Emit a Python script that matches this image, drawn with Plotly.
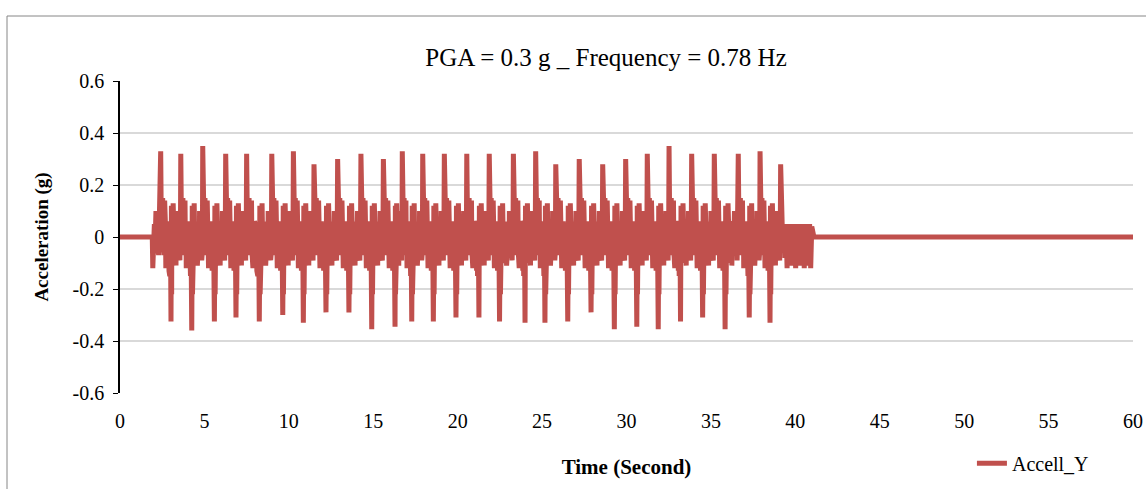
import plotly.graph_objects as go

# ----------------------------- Data ----------------------------- #
# major positive spikes (time [s], acceleration [g])
pos_t = [2.41, 3.60, 4.90, 6.26, 7.50, 8.99, 10.27, 11.49, 12.89, 14.27,
         15.60, 16.72, 17.93, 19.21, 20.54, 21.87, 23.30, 24.62, 25.81, 27.20,
         28.59, 29.95, 31.23, 32.52, 33.86, 35.20, 36.62, 37.91, 39.13]
pos_g = [0.33, 0.32, 0.35, 0.32, 0.32, 0.32, 0.33, 0.28, 0.30, 0.32,
         0.30, 0.33, 0.32, 0.32, 0.32, 0.32, 0.32, 0.33, 0.28, 0.30,
         0.28, 0.30, 0.32, 0.35, 0.32, 0.32, 0.32, 0.33, 0.28]

# major negative spikes
neg_t = [3.02, 4.25, 5.59, 6.87, 8.25, 9.64, 10.86, 12.20, 13.56, 14.91,
         16.29, 17.28, 18.56, 19.90, 21.26, 22.48, 23.99, 25.17, 26.52, 27.90,
         29.28, 30.61, 31.88, 33.20, 34.51, 35.84, 37.27, 38.50]
neg_g = [-0.325, -0.36, -0.325, -0.31, -0.325, -0.30, -0.33, -0.29, -0.29, -0.355,
         -0.345, -0.325, -0.325, -0.31, -0.31, -0.325, -0.33, -0.33, -0.325, -0.29,
         -0.355, -0.345, -0.355, -0.325, -0.31, -0.355, -0.31, -0.33]

# small oscillations seen between the spikes
after_pos = [0.15, 0.14, 0.12, -0.05, 0.15, -0.06, 0.09, -0.07, 0.05, 0.14, -0.06,
             0.05, -0.12, 0.05, -0.07, 0.06, -0.06, 0.05, -0.06, 0.05, -0.13,
             0.04, -0.15, 0.05, -0.06]
after_neg = [-0.17, 0.12, -0.22, 0.10, -0.06, 0.08, -0.05, 0.05, -0.06, 0.13,
             -0.05, 0.05, -0.07, 0.06, -0.06, 0.05, -0.10, 0.05, -0.06, 0.06,
             -0.06, 0.05, -0.11, 0.05, -0.06, 0.06, -0.08, 0.05, -0.06, 0.05,
             -0.06, 0.10, -0.05, 0.05, -0.06, 0.05, -0.07, 0.05, -0.06, 0.05,
             -0.09, 0.05, -0.06, 0.06]
start_g = [0.0, -0.12, 0.03, -0.10, 0.05, -0.05, 0.05, 0.10, -0.05, 0.05, -0.06, 0.05,
           -0.07, 0.05, -0.05, 0.06]
end_g = [0.12, -0.05, 0.05, -0.08, 0.05, -0.12, 0.05, -0.06, 0.04, -0.11, 0.05, -0.06,
         0.04, -0.12, 0.05, -0.06, 0.04, -0.11, 0.05, -0.06, 0.04, -0.12, 0.05, -0.06,
         0.04, -0.11, 0.05, -0.12, 0.04, 0.0]

rest_t = [0.0, 1.88, 41.10, 60.0]

y_ticks = [-0.6, -0.4, -0.2, 0, 0.2, 0.4, 0.6]
y_labels = ["-0.6", "-0.4", "-0.2", "0", "0.2", "0.4", "0.6"]
x_ticks = [0, 5, 10, 15, 20, 25, 30, 35, 40, 45, 50, 55, 60]


def spread(t0, t1, vals):
    n = len(vals) + 1
    return [t0 + (t1 - t0) * (k + 1) / n for k in range(len(vals))], list(vals)


# ----------------------------- Build the record ----------------------------- #
t = [rest_t[0]]
a = [0.0]
tt, vv = spread(rest_t[1], pos_t[0], start_g)
t += [rest_t[1]] + tt
a += [0.0] + vv
for i in range(len(pos_t)):
    t.append(pos_t[i])
    a.append(pos_g[i])
    if i < len(neg_t):
        tt, vv = spread(pos_t[i], neg_t[i], after_pos)
        t += tt + [neg_t[i]]
        a += vv + [neg_g[i]]
        tt, vv = spread(neg_t[i], pos_t[i + 1], after_neg)
        t += tt
        a += vv
    else:
        tt, vv = spread(pos_t[i], rest_t[2], end_g)
        t += tt
        a += vv
t += [rest_t[2], rest_t[3]]
a += [0.0, 0.0]

# ----------------------------- Figure ----------------------------- #
font = "Liberation Serif, Times New Roman, serif"
fig = go.Figure()
fig.add_trace(
    go.Scatter(
        x=t,
        y=a,
        mode="lines",
        name="Accell_Y",
        line=dict(color="#C0504D", width=5),
    )
)

fig.update_layout(
    width=1146,
    height=489,
    margin=dict(l=120, r=13, t=81, b=96, autoexpand=False),
    paper_bgcolor="white",
    plot_bgcolor="white",
    font=dict(family=font, size=20, color="black"),
    title=dict(
        text="PGA = 0.3 g _ Frequency = 0.78 Hz",
        x=606 / 1146,
        xanchor="center",
        y=1 - 57 / 489,
        yanchor="middle",
        font=dict(family=font, size=25, color="black"),
    ),
    showlegend=True,
    legend=dict(
        x=0.841,
        y=-0.225,
        xanchor="left",
        yanchor="middle",
        font=dict(family=font, size=20),
        bgcolor="rgba(0,0,0,0)",
    ),
    shapes=[
        dict(
            type="rect",
            xref="paper",
            yref="paper",
            x0=(7 - 120) / 1013,
            x1=1.1,
            y0=-0.5,
            y1=(393 - 16) / 312,
            line=dict(color="#868686", width=1),
            fillcolor="rgba(0,0,0,0)",
            layer="below",
        )
    ],
)

fig.update_xaxes(
    range=[0, 60],
    tickvals=x_ticks,
    showgrid=False,
    zeroline=False,
    showline=False,
    ticks="",
    automargin=False,
    ticklabelstandoff=14,
    title=dict(text="<b>Time (Second)</b>", font=dict(family=font, size=21), standoff=28),
)
fig.update_yaxes(
    range=[-0.6, 0.6],
    tickvals=y_ticks,
    ticktext=y_labels,
    showgrid=True,
    gridcolor="#D9D9D9",
    gridwidth=1.5,
    zeroline=False,
    showline=True,
    linecolor="black",
    linewidth=1.5,
    ticks="outside",
    ticklen=5,
    tickcolor="black",
    automargin=False,
    ticklabelstandoff=5,
    title=dict(text="<b>Acceleration (g)</b>", font=dict(family=font, size=19), standoff=19),
)

# page has a default body margin; drop it so the figure sits at the window corner
fig.write_html(
    "out.html",
    config={"displayModeBar": False},
    post_script="document.body.style.margin='0';",
)
